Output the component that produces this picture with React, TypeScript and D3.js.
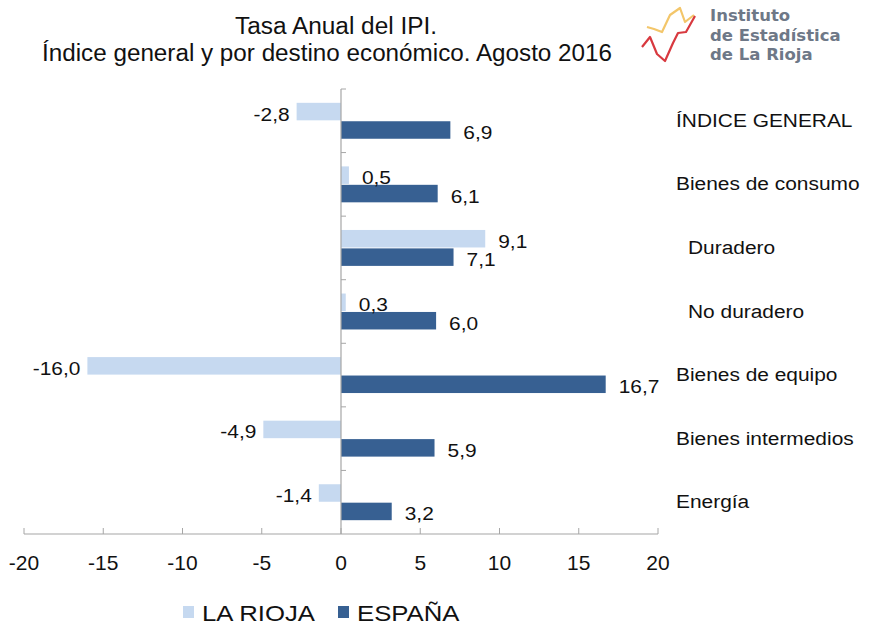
import React from "react";
import * as d3 from "d3";

const categories = [
  "ÍNDICE GENERAL",
  "Bienes de consumo",
  "Duradero",
  "No duradero",
  "Bienes de equipo",
  "Bienes intermedios",
  "Energía",
];
const categoryLevel = [0, 0, 1, 1, 0, 0, 0];
const seriesNames = ["LA RIOJA", "ESPAÑA"];
const laRioja = [-2.8, 0.5, 9.1, 0.3, -16.0, -4.9, -1.4];
const espana = [6.9, 6.1, 7.1, 6.0, 16.7, 5.9, 3.2];
const xTicks = [-20, -15, -10, -5, 0, 5, 10, 15, 20];
const titleLines = [
  "Tasa Anual del IPI.",
  "Índice general y por destino económico. Agosto  2016",
];
const logoLines = ["Instituto", "de Estadística", "de La Rioja"];

const W = 870;
const H = 627;
const FONT = "'Liberation Sans', Arial, Helvetica, sans-serif";
const COLORS = ["#c6d9f0", "#376092"];
const AXIS = "#a6a6a6";

const fmt = (v: number) => v.toFixed(1).replace(".", ",");

function SText(props: {
  x: number;
  y: number;
  size: number;
  sx?: number;
  anchor?: "start" | "middle" | "end";
  children: React.ReactNode;
  fill?: string;
  weight?: string | number;
  family?: string;
}) {
  const { x, y, size, sx = 1.15, anchor = "start", children, fill = "#111", weight = "normal", family = FONT } = props;
  return (
    <text
      transform={`translate(${x},${y}) scale(${sx},1)`}
      fontSize={size}
      fontFamily={family}
      textAnchor={anchor}
      fill={fill}
      fontWeight={weight}
    >
      {children}
    </text>
  );
}

export default function App() {
  const x = d3.scaleLinear().domain([-20, 20]).range([24, 658]);
  const y = d3.scaleBand<string>().domain(categories).range([89, 534]).paddingInner(0).paddingOuter(0);
  const inner = d3
    .scaleBand<string>()
    .domain(seriesNames)
    .range([0, y.bandwidth()])
    .paddingInner(0.05)
    .paddingOuter(0.75);
  const series = [laRioja, espana];
  const x0 = x(0);
  const axisY = 534;

  const boundaries = d3.range(0, categories.length + 1).map((i) => 89 + i * y.step());

  const logoYellow = "M647,27 L654,29 L662,32 L670,15 L680,8 L685,22 L694,15";
  const logoRed = "M642,47 L650,37 L657,54 L665,61 L673,43 L678,33 L686,32 L695,16";

  return (
    <svg
      width={W}
      height={H}
      viewBox={`0 0 ${W} ${H}`}
      style={{ position: "absolute", left: 0, top: 0, background: "#fff" }}
    >
      <rect x={0} y={0} width={W} height={H} fill="#fff" />
      {/* Title */}
      <text x={336} y={34} fontSize={23} fontFamily={FONT} textAnchor="middle" fill="#111" textLength={202} lengthAdjust="spacingAndGlyphs">
        {titleLines[0]}
      </text>
      <text x={327} y={61} fontSize={23} fontFamily={FONT} textAnchor="middle" fill="#111" textLength={570} lengthAdjust="spacingAndGlyphs">
        {titleLines[1]}
      </text>

      {/* Logo */}
      <g>
        <path d={logoYellow} fill="none" stroke="#f3c66a" strokeWidth={2.2} strokeLinejoin="round" />
        <path d={logoRed} fill="none" stroke="#d8393f" strokeWidth={2.2} strokeLinejoin="round" />
        {logoLines.map((t, i) => (
          <SText key={t} x={710} y={21 + i * 19.5} size={16.5} sx={1.0} fill="#6e7887" weight="bold" family="'DejaVu Sans', sans-serif">
            {t}
          </SText>
        ))}
      </g>

      {/* Bars */}
      {series.map((vals, si) =>
        vals.map((v, ci) => {
          const cat = categories[ci];
          const by = (y(cat) as number) + (inner(seriesNames[si]) as number);
          const x1 = x(Math.min(0, v));
          const x2 = x(Math.max(0, v));
          return (
            <rect key={`${si}-${ci}`} x={x1} y={by} width={x2 - x1} height={inner.bandwidth()} fill={COLORS[si]} />
          );
        })
      )}

      {/* Axes */}
      <line x1={x0} x2={x0} y1={89} y2={axisY} stroke={AXIS} strokeWidth={1.2} />
      {boundaries.slice(0, -1).map((b, i) => (
        <line key={`yt${i}`} x1={x0} x2={x0 + 5} y1={b} y2={b} stroke={AXIS} strokeWidth={1} />
      ))}
      <line x1={x(-20)} x2={x(20)} y1={axisY} y2={axisY} stroke={AXIS} strokeWidth={1.2} />
      {xTicks.map((t) => (
        <line key={`xt${t}`} x1={x(t)} x2={x(t)} y1={axisY} y2={axisY - 6} stroke={AXIS} strokeWidth={1} />
      ))}
      {xTicks.map((t) => (
        <SText key={`xl${t}`} x={x(t)} y={570} size={20} sx={1.05} anchor="middle">
          {String(t)}
        </SText>
      ))}

      {/* Data labels */}
      {series.map((vals, si) =>
        vals.map((v, ci) => {
          const cat = categories[ci];
          const cy = (y(cat) as number) + (inner(seriesNames[si]) as number) + inner.bandwidth() / 2 + 2;
          const pos = v >= 0;
          return (
            <SText
              key={`dl${si}-${ci}`}
              x={pos ? x(v) + 13 : x(v) - 7}
              y={cy + 7}
              size={19}
              sx={1.1}
              anchor={pos ? "start" : "end"}
            >
              {fmt(v)}
            </SText>
          );
        })
      )}

      {/* Category labels */}
      {categories.map((c, i) => (
        <SText
          key={`cl${i}`}
          x={676 + categoryLevel[i] * 12}
          y={(y(c) as number) + y.bandwidth() / 2 + 6}
          size={19}
          sx={1.1}
        >
          {c}
        </SText>
      ))}

      {/* Legend */}
      {seriesNames.map((s, i) => {
        const lx = i === 0 ? 183 : 338;
        return (
          <g key={`lg${s}`}>
            <rect x={lx} y={606} width={11} height={12} fill={COLORS[i]} />
            <SText x={lx + 19} y={621} size={22} sx={1.17}>
              {s}
            </SText>
          </g>
        );
      })}
    </svg>
  );
}
